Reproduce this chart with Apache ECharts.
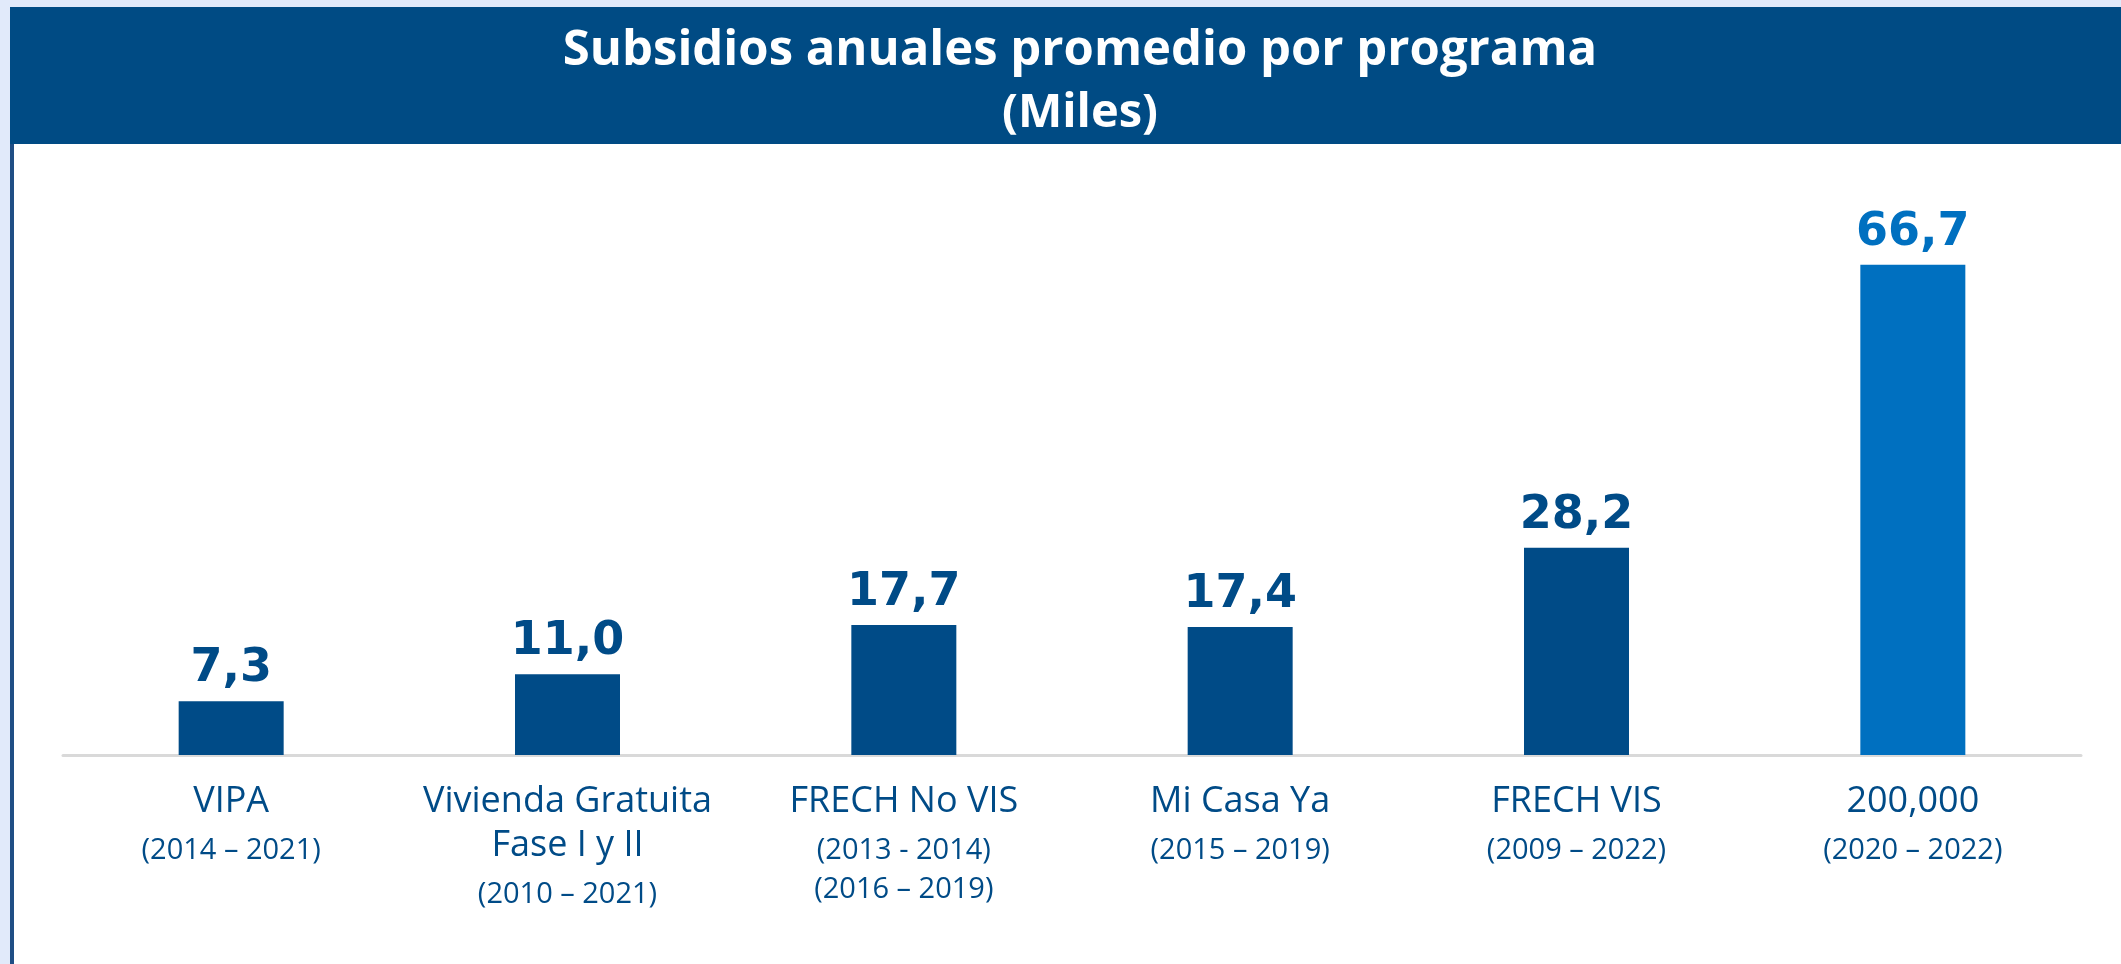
<!DOCTYPE html>
<html>
<head>
<meta charset="utf-8">
<script src="https://cdn.jsdelivr.net/npm/echarts@6/dist/echarts.min.js"></script>
<style>
  html, body { margin: 0; padding: 0; background: #ffffff; }
  #chart { width: 2121px; height: 964px; }
</style>
</head>
<body>
<div id="chart"></div>
<script>
// programas y periodos
const programas = ['VIPA', 'Vivienda Gratuita\nFase I y II', 'FRECH No VIS', 'Mi Casa Ya', 'FRECH VIS', '200,000']
const periodos = [
  ['(2014 – 2021)'],
  ['(2010 – 2021)'],
  ['(2013 - 2014)', '(2016 – 2019)'],
  ['(2015 – 2019)'],
  ['(2009 – 2022)'],
  ['(2020 – 2022)']
]
// subsidios anuales promedio (miles)
const subsidios = [7.3, 11.0, 17.7, 17.4, 28.2, 66.7]
const destacado = 5

const azulOscuro = '#004b87'
const azulClaro = '#0070c0'

const chart = echarts.init(document.getElementById('chart'))

const option = {
  backgroundColor: '#ffffff',
  animation: false,
  title: [
    {
      text: 'Subsidios anuales promedio por programa',
      left: 1075,
      textAlign: 'center',
      top: 22,
      textStyle: {color: '#ffffff', fontFamily: 'Open Sans', fontWeight: 'bold', fontSize: 49}
    },
    {
      text: '(Miles)',
      left: 1075,
      textAlign: 'center',
      top: 85,
      textStyle: {color: '#ffffff', fontFamily: 'Open Sans', fontWeight: 'bold', fontSize: 47}
    }
  ],
  graphic: [
    {type: 'rect', z: -1, shape: {x: 0, y: 0, width: 2121, height: 8}, style: {fill: '#e1eafa'}},
    {type: 'rect', z: -1, shape: {x: 0, y: 0, width: 10, height: 964}, style: {fill: '#e1eafa'}},
    {type: 'rect', z: -1, shape: {x: 10, y: 7, width: 4, height: 957}, style: {fill: '#1f4e85'}},
    {type: 'rect', z: -1, shape: {x: 10, y: 7, width: 2111, height: 137}, style: {fill: '#004b84'}}
  ],
  grid: {left: 63, right: 40, top: 167, bottom: 209},
  xAxis: {
    type: 'category',
    data: programas,
    axisLine: {lineStyle: {color: '#d9d9d9', width: 3}},
    axisTick: {show: false},
    axisLabel: {
      interval: 0,
      margin: 25,
      formatter: function (value, index) {
        const nombre = value.split('\n').map(t => '{n|' + t + '}').join('\n')
        const fechas = periodos[index].map((f, k) => (k === 0 ? '{d|' : '{e|') + f + '}').join('\n')
        return nombre + '\n' + fechas
      },
      rich: {
        n: {fontFamily: 'Open Sans', fontSize: 36, color: azulOscuro, lineHeight: 44},
        d: {fontFamily: 'Open Sans', fontSize: 29, color: azulOscuro, lineHeight: 54},
        e: {fontFamily: 'Open Sans', fontSize: 29, color: azulOscuro, lineHeight: 24}
      }
    }
  },
  yAxis: {
    type: 'value',
    min: 0,
    max: 80,
    show: false,
    splitLine: {show: false}
  },
  series: [
    {
      type: 'bar',
      barWidth: 105,
      data: subsidios.map((v, i) => ({
        value: v,
        itemStyle: {color: i === destacado ? azulClaro : azulOscuro},
        label: {color: i === destacado ? azulClaro : azulOscuro}
      })),
      label: {
        show: true,
        position: 'top',
        distance: 9,
        fontFamily: 'DejaVu Sans',
        fontWeight: 'bold',
        fontSize: 46,
        formatter: p => p.value.toFixed(1).replace('.', ',')
      }
    }
  ]
}

chart.setOption(option)
</script>
</body>
</html>
